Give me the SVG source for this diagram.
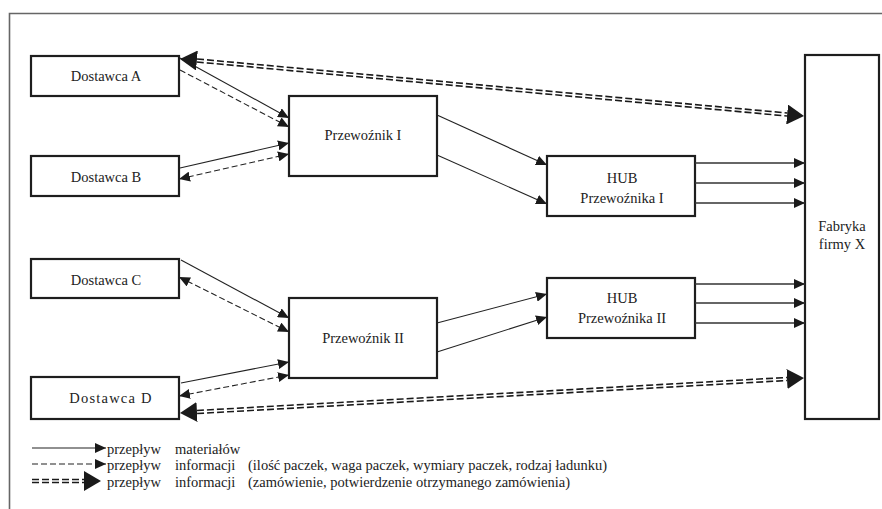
<svg xmlns="http://www.w3.org/2000/svg" width="882" height="509" viewBox="0 0 882 509">
<style>
text{font-family:"Liberation Serif","Times New Roman",serif;font-size:14.5px;fill:#222}
.n{fill:#fff;stroke:#1e1e1e;stroke-width:2.2}
.s{fill:none;stroke:#222;stroke-width:1.1}
.h{fill:none;stroke:#333;stroke-width:1.5}
.d{fill:none;stroke:#222;stroke-width:1.1;stroke-dasharray:6 3}
.db{fill:none;stroke:#1a1a1a;stroke-width:4.6;stroke-dasharray:7 3}
.dw{fill:none;stroke:#fff;stroke-width:1.4}
</style>
<defs>
<marker id="a" markerUnits="userSpaceOnUse" markerWidth="11" markerHeight="10" refX="11" refY="5" orient="auto-start-reverse"><path d="M0,0 L11,5 L0,10 z" fill="#1a1a1a"/></marker>
<marker id="b" markerUnits="userSpaceOnUse" markerWidth="17" markerHeight="20" refX="0" refY="10" orient="auto-start-reverse"><path d="M0,0 L17,10 L0,20 z" fill="#1a1a1a"/></marker>
</defs>
<rect width="882" height="509" fill="#fff"/>
<path d="M9.5,509 V13.5 H882" fill="none" stroke="#666" stroke-width="1.6"/>

<g id="dostawca-a"><rect class="n" x="31" y="56" width="148" height="40"/><text x="106" y="81" text-anchor="middle">Dostawca A</text></g>
<g id="dostawca-b"><rect class="n" x="31" y="156" width="148" height="40"/><text x="106" y="181.5" text-anchor="middle">Dostawca B</text></g>
<g id="dostawca-c"><rect class="n" x="31" y="259" width="148" height="39"/><text x="106" y="285" text-anchor="middle">Dostawca C</text></g>
<g id="dostawca-d"><rect class="n" x="31" y="377" width="148" height="42"/><text x="111" y="403" text-anchor="middle" letter-spacing="1.2">Dostawca D</text></g>
<g id="przewoznik-1"><rect class="n" x="289" y="96" width="148" height="80"/><text x="363" y="140" text-anchor="middle">Przewoźnik I</text></g>
<g id="przewoznik-2"><rect class="n" x="289" y="298" width="148" height="80"/><text x="363" y="343" text-anchor="middle">Przewoźnik II</text></g>
<g id="hub-1"><rect class="n" x="547" y="156" width="148" height="60"/><text x="622" y="182.5" text-anchor="middle">HUB</text><text x="622" y="202.5" text-anchor="middle">Przewoźnika I</text></g>
<g id="hub-2"><rect class="n" x="547" y="278" width="148" height="60"/><text x="622" y="303" text-anchor="middle">HUB</text><text x="622" y="323" text-anchor="middle">Przewoźnika II</text></g>
<g id="fabryka"><rect class="n" x="805" y="55" width="74" height="364"/><text x="842" y="231" text-anchor="middle">Fabryka</text><text x="842" y="249" text-anchor="middle">firmy X</text></g>

<g id="connectors">
<path class="s" d="M180,58 L289,118" marker-end="url(#a)"/>
<path class="s" d="M180,168 L289,143" marker-end="url(#a)"/>
<path class="s" d="M437,115 L547,165" marker-end="url(#a)"/>
<path class="s" d="M437,155 L547,204" marker-end="url(#a)"/>
<path class="h" d="M695,163 H805" marker-end="url(#a)"/>
<path class="h" d="M695,183 H805" marker-end="url(#a)"/>
<path class="h" d="M695,203 H805" marker-end="url(#a)"/>
<path class="s" d="M181,260 L289,318" marker-end="url(#a)"/>
<path class="s" d="M181,383 L289,362" marker-end="url(#a)"/>
<path class="s" d="M437,323 L547,294" marker-end="url(#a)"/>
<path class="s" d="M437,352 L547,317" marker-end="url(#a)"/>
<path class="h" d="M695,284 H805" marker-end="url(#a)"/>
<path class="h" d="M695,303 H805" marker-end="url(#a)"/>
<path class="h" d="M695,323 H805" marker-end="url(#a)"/>

<path class="d" d="M180,70 L289,127" marker-end="url(#a)"/>
<path class="d" d="M179,179 L289,154" marker-start="url(#a)" marker-end="url(#a)"/>
<path class="d" d="M179,277 L289,332" marker-start="url(#a)" marker-end="url(#a)"/>
<path class="d" d="M179,396 L289,375" marker-start="url(#a)" marker-end="url(#a)"/>

<path class="db" d="M196.9,60.5 L787.1,114.5" marker-start="url(#b)" marker-end="url(#b)"/>
<path class="dw" d="M196.9,60.5 L787.1,114.5"/>
<path class="db" d="M197,412 L787,379" marker-start="url(#b)" marker-end="url(#b)"/>
<path class="dw" d="M197,412 L787,379"/>
</g>

<g id="legend">
<path class="s" d="M32,448 H106" marker-end="url(#a)"/>
<path class="d" d="M32,464 H106" stroke-dasharray="5 3" marker-end="url(#a)"/>
<path class="db" d="M32,481 H84" marker-end="url(#b)"/>
<path class="dw" d="M32,481 H84"/>
<text y="454"><tspan x="107">przepływ</tspan><tspan x="175">materiałów</tspan></text>
<text y="470"><tspan x="107">przepływ</tspan><tspan x="175">informacji</tspan><tspan x="248">(ilość paczek, waga paczek, wymiary paczek, rodzaj ładunku)</tspan></text>
<text y="487"><tspan x="107">przepływ</tspan><tspan x="175">informacji</tspan><tspan x="248">(zamówienie, potwierdzenie otrzymanego zamówienia)</tspan></text>
</g>
</svg>
